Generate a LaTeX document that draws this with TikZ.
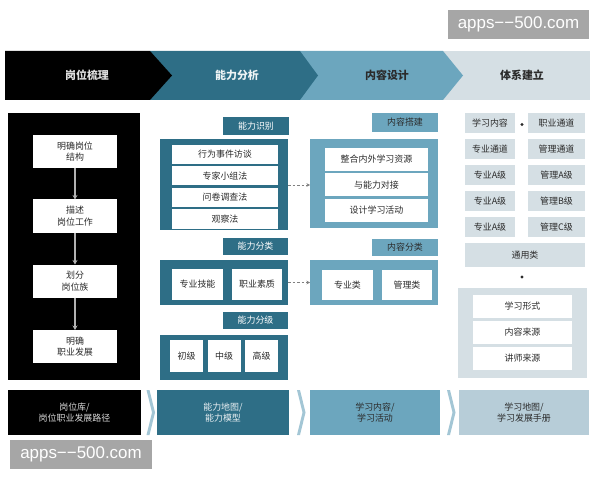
\documentclass[tikz,border=0pt]{standalone}
\usepackage{fontspec}
\setmainfont{Noto Sans CJK SC}
\newfontfamily\wmfont{Liberation Sans}
\usetikzlibrary{arrows.meta}
\definecolor{dteal}{HTML}{2E6E86}
\definecolor{mteal}{HTML}{6CA6BE}
\definecolor{lgray}{HTML}{D5DFE4}
\definecolor{bgray}{HTML}{B7CDD8}
\definecolor{septeal}{HTML}{A3C6D5}
\definecolor{wmgray}{HTML}{A6A6A6}
\definecolor{txt}{HTML}{2B2B2B}
\begin{document}
\begin{tikzpicture}[x=1bp,y=-1bp,
  every node/.style={inner sep=0pt, outer sep=0pt, align=center},
  sm/.style={font=\fontsize{9}{11.5}\selectfont},
  hd/.style={font=\bfseries\fontsize{11}{13}\selectfont},
  wbox/.style={sm, fill=white, text=txt},
  dbox/.style={fill=dteal},
  mbox/.style={fill=mteal},
  gbox/.style={sm, fill=lgray, text=txt},
  dlabel/.style={sm, fill=dteal, text=white},
  mlabel/.style={sm, fill=mteal, text=txt},
  garrow/.style={draw=gray!60, line width=1.5bp, -{Stealth[length=4.5bp,width=5bp]}},
  darrow/.style={draw=gray, line width=0.8bp, dashed, dash pattern=on 2.5bp off 2bp, -{Stealth[length=3.5bp,width=3.5bp]}},
  sepchev/.style={fill=septeal},
  wm/.style={fill=wmgray, text=white, font=\wmfont\fontsize{17}{19}\selectfont}
]
\useasboundingbox (0,0) rectangle (600,480);

% watermarks
\node[wm, minimum width=141bp, minimum height=29bp] (wmtop) at (518.5,24.5) {apps−−500.com};
\node[wm, minimum width=142bp, minimum height=29bp] (wmbot) at (81,454.5) {apps−−500.com};

% header chevrons
\fill[lgray] (443,51) rectangle (590,100);
\fill[mteal] (300,51) -- (443,51) -- (463,75.5) -- (443,100) -- (300,100) -- cycle;
\fill[dteal] (150,51) -- (300,51) -- (318,75.5) -- (300,100) -- (150,100) -- cycle;
\fill[black] (5,51) -- (150,51) -- (172,75.5) -- (150,100) -- (5,100) -- cycle;
\node[hd, text=gray!25] (h1) at (87,75.5) {岗位梳理};
\node[hd, text=white!92!dteal] (h2) at (237,75.5) {能力分析};
\node[hd, text=txt] (h3) at (387,75.5) {内容设计};
\node[hd, text=txt] (h4) at (522,75.5) {体系建立};

% left panel
\node[fill=black, minimum width=132bp, minimum height=267bp] (lp) at (74,246.5) {};
\node[wbox, minimum width=84bp, minimum height=33bp] (b1) at (75,151.5) {明确岗位\\结构};
\node[wbox, minimum width=84bp, minimum height=33bp] (b2) at (75,216) {描述\\岗位工作};
\node[wbox, minimum width=84bp, minimum height=33bp] (b3) at (75,281) {划分\\岗位族};
\node[wbox, minimum width=84bp, minimum height=33bp] (b4) at (75,346.5) {明确\\职业发展};
\draw[garrow] (b1) -- (b2);
\draw[garrow] (b2) -- (b3);
\draw[garrow] (b3) -- (b4);

% column 2
\node[dlabel, minimum width=66bp, minimum height=18bp] (l21) at (256,126) {能力识别};
\node[dbox, minimum width=128bp, minimum height=91bp] (m21) at (224,184.5) {};
\node[wbox, minimum width=106bp, minimum height=19bp] (r1) at (225,154.5) {行为事件访谈};
\node[wbox, minimum width=106bp, minimum height=19bp] (r2) at (225,176) {专家小组法};
\node[wbox, minimum width=106bp, minimum height=19bp] (r3) at (225,197.5) {问卷调查法};
\node[wbox, minimum width=106bp, minimum height=19bp] (r4) at (225,219) {观察法};

\node[dlabel, minimum width=65bp, minimum height=17bp] (l22) at (255.5,246.5) {能力分类};
\node[dbox, minimum width=128bp, minimum height=45bp] (m22) at (224,282.5) {};
\node[wbox, minimum width=51bp, minimum height=31bp] (c1) at (197.5,284.5) {专业技能};
\node[wbox, minimum width=50bp, minimum height=31bp] (c2) at (257,284.5) {职业素质};

\node[dlabel, minimum width=65bp, minimum height=17bp] (l23) at (255.5,320.5) {能力分级};
\node[dbox, minimum width=128bp, minimum height=45bp] (m23) at (224,357.5) {};
\node[wbox, minimum width=33bp, minimum height=32bp] (g1) at (186.5,356) {初级};
\node[wbox, minimum width=33bp, minimum height=32bp] (g2) at (224,356) {中级};
\node[wbox, minimum width=33bp, minimum height=32bp] (g3) at (261.5,356) {高级};

% column 3
\node[mlabel, minimum width=66bp, minimum height=19bp] (l31) at (405,122.5) {内容搭建};
\node[mbox, minimum width=128bp, minimum height=89bp] (m31) at (374,183.5) {};
\node[wbox, minimum width=103bp, minimum height=23bp] (s1) at (376.5,159.5) {整合内外学习资源};
\node[wbox, minimum width=103bp, minimum height=23bp] (s2) at (376.5,185) {与能力对接};
\node[wbox, minimum width=103bp, minimum height=23bp] (s3) at (376.5,210.5) {设计学习活动};

\node[mlabel, minimum width=66bp, minimum height=17bp] (l32) at (405,247.5) {内容分类};
\node[mbox, minimum width=128bp, minimum height=45bp] (m32) at (374,282.5) {};
\node[wbox, minimum width=51bp, minimum height=30bp] (k1) at (347.5,285) {专业类};
\node[wbox, minimum width=50bp, minimum height=30bp] (k2) at (407,285) {管理类};

\draw[darrow] (m21.east |- 0,185) -- (m31.west |- 0,185);
\draw[darrow] (m22.east) -- (m32.west);

% column 4
\node[gbox, minimum width=50bp, minimum height=20bp] (t11) at (490,123) {学习内容};
\node[gbox, minimum width=57bp, minimum height=20bp] (t12) at (556.5,123) {职业通道};
\node[gbox, minimum width=50bp, minimum height=20bp] (t21) at (490,149) {专业通道};
\node[gbox, minimum width=57bp, minimum height=20bp] (t22) at (556.5,149) {管理通道};
\node[gbox, minimum width=50bp, minimum height=20bp] (t31) at (490,175) {专业A级};
\node[gbox, minimum width=57bp, minimum height=20bp] (t32) at (556.5,175) {管理A级};
\node[gbox, minimum width=50bp, minimum height=20bp] (t41) at (490,201) {专业A级};
\node[gbox, minimum width=57bp, minimum height=20bp] (t42) at (556.5,201) {管理B级};
\node[gbox, minimum width=50bp, minimum height=20bp] (t51) at (490,227) {专业A级};
\node[gbox, minimum width=57bp, minimum height=20bp] (t52) at (556.5,227) {管理C级};
\node[gbox, minimum width=120bp, minimum height=24bp] (t6) at (525,255) {通用类};
\fill[txt] (522,124.5) circle (1.6bp);
\fill[txt] (522,277) circle (1.6bp);
\node[fill=lgray, minimum width=129bp, minimum height=90bp] (m41) at (522.5,333) {};
\node[wbox, minimum width=99bp, minimum height=23bp] (u1) at (522.5,306) {学习形式};
\node[wbox, minimum width=99bp, minimum height=23bp] (u2) at (522.5,332) {内容来源};
\node[wbox, minimum width=99bp, minimum height=23bp] (u3) at (522.5,358) {讲师来源};

% bottom row
\node[sm, fill=black, text=gray!30, minimum width=133bp, minimum height=45bp] (o1) at (74.5,412.5) {岗位库/\\岗位职业发展路径};
\node[sm, fill=dteal, text=white!90!dteal, minimum width=132bp, minimum height=45bp] (o2) at (223,412.5) {能力地图/\\能力模型};
\node[sm, fill=mteal, text=txt, minimum width=130bp, minimum height=45bp] (o3) at (375,412.5) {学习内容/\\学习活动};
\node[sm, fill=bgray, text=txt, minimum width=130bp, minimum height=45bp] (o4) at (524,412.5) {学习地图/\\学习发展手册};
\fill[sepchev] (146.5,390) -- (149.5,390) -- (155,412.5) -- (149.5,435) -- (146.5,435) -- (152,412.5) -- cycle;
\fill[sepchev] (297,390) -- (300,390) -- (305.5,412.5) -- (300,435) -- (297,435) -- (302.5,412.5) -- cycle;
\fill[sepchev] (447,390) -- (450,390) -- (455.5,412.5) -- (450,435) -- (447,435) -- (452.5,412.5) -- cycle;
\end{tikzpicture}
\end{document}
